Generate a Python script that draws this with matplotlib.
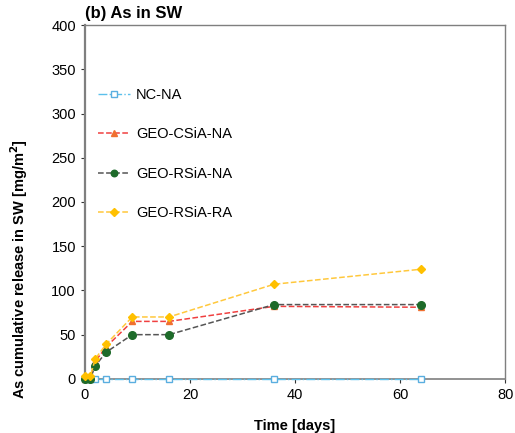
import matplotlib.pyplot as plt

plt.rcParams['font.family'] = ['Liberation Sans', 'DejaVu Sans']

# Sampling times (days)
days = [0, 1, 2, 4, 9, 16, 36, 64]

# Cumulative As release (mg/m2)
nc_na = [0, 0, 0, 0, 0, 0, 0, 0]
geo_csia_na = [0, 1, 20, 36, 65, 65, 82, 81]
geo_rsia_na = [0, 0, 15, 30, 50, 50, 84, 84]
geo_rsia_ra = [3, 3, 23, 39, 70, 70, 107, 124]

fig = plt.figure(figsize=(5.15, 4.33), dpi=100)
ax = fig.add_axes([0.165, 0.125, 0.816, 0.817])

ax.plot(days, nc_na, color='#5bc0eb', linestyle='-.', linewidth=1, marker='s',
        markersize=4.5, markerfacecolor='white', markeredgecolor='#5aaee0',
        label='NC-NA', clip_on=False, zorder=3)
ax.plot(days, geo_csia_na, color='#f04040', linestyle='--', linewidth=1.1, marker='^',
        markersize=4.5, markerfacecolor='#f07030', markeredgecolor='#f07030',
        label='GEO-CSiA-NA', clip_on=False, zorder=4)
ax.plot(days, geo_rsia_na, color='#555555', linestyle='--', linewidth=1.1, marker='o',
        markersize=5.5, markerfacecolor='#1e6b2a', markeredgecolor='#1e6b2a',
        label='GEO-RSiA-NA', clip_on=False, zorder=4)
ax.plot(days, geo_rsia_ra, color='#ffc83c', linestyle='--', linewidth=1.1, marker='D',
        markersize=4.5, markerfacecolor='#ffc000', markeredgecolor='#ffc000',
        label='GEO-RSiA-RA', clip_on=False, zorder=5)

ax.set_xlim(0, 80)
ax.set_ylim(0, 400)
ax.set_xticks([0, 20, 40, 60, 80])
ax.set_yticks(range(0, 401, 50))
ax.tick_params(direction='out', length=3, labelsize=10.5, color='#333333')

for side in ['left', 'bottom', 'right', 'top']:
    ax.spines[side].set_color('#7f7f7f')
ax.spines['left'].set_linewidth(1.6)
ax.spines['bottom'].set_linewidth(1.2)
ax.spines['right'].set_linewidth(1.0)
ax.spines['top'].set_linewidth(1.0)

ax.set_xlabel('Time [days]', fontsize=10.5, fontweight='bold', labelpad=12)
ax.set_ylabel('As cumulative release in SW [mg/m$^\\mathbf{2}$]', fontsize=10.5,
              fontweight='bold')
ax.yaxis.set_label_coords(-0.13, 0.31)
ax.set_title('(b) As in SW', fontsize=12, fontweight='bold', loc='left', pad=5)

ax.legend(loc='upper left', bbox_to_anchor=(0.0, 0.86), frameon=False, fontsize=10.5,
          labelspacing=1.75, handlelength=2.2, handletextpad=0.4, markerscale=0.85)

fig.savefig('out.png', dpi=100)
